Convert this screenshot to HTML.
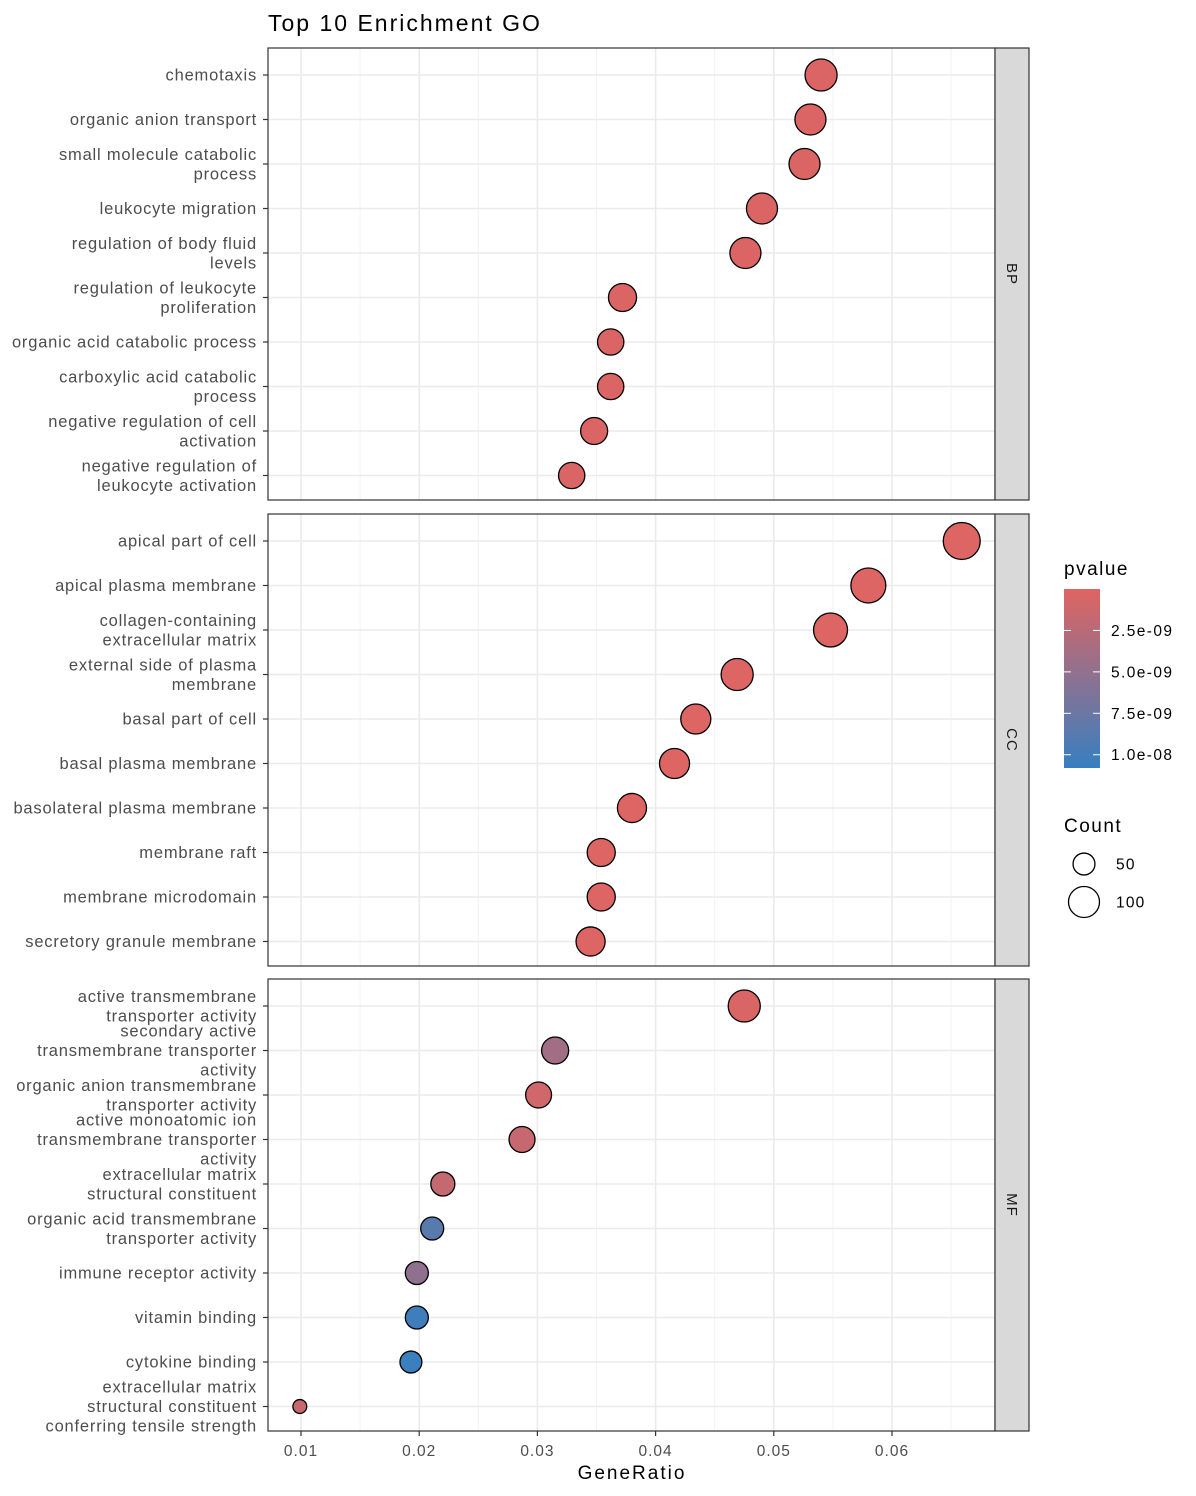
<!DOCTYPE html>
<html><head><meta charset="utf-8"><style>
html,body{margin:0;padding:0;background:#fff;}
svg{display:block;font-family:"Liberation Sans",Arial,sans-serif;}
</style></head><body>
<svg id="chart" width="1196" height="1496">
<text x="268" y="31" font-size="23" letter-spacing="2" fill="#000">Top 10 Enrichment GO</text>
</svg>
<script>
const panels=["BP","CC","MF"];
const labelsBP=["chemotaxis","organic anion transport","small molecule catabolic|process","leukocyte migration","regulation of body fluid|levels","regulation of leukocyte|proliferation","organic acid catabolic process","carboxylic acid catabolic|process","negative regulation of cell|activation","negative regulation of|leukocyte activation"];
const ratioBP=[0.054,0.0531,0.0526,0.049,0.0476,0.0372,0.0362,0.0362,0.0348,0.0329];
const countBP=[107,100,100,100,100,82,72,72,76,72];
const pBP=[0.3e-9,0.3e-9,0.3e-9,0.3e-9,0.3e-9,0.3e-9,0.3e-9,0.3e-9,0.3e-9,0.4e-9];
const labelsCC=["apical part of cell","apical plasma membrane","collagen-containing|extracellular matrix","external side of plasma|membrane","basal part of cell","basal plasma membrane","basolateral plasma membrane","membrane raft","membrane microdomain","secretory granule membrane"];
const ratioCC=[0.0659,0.058,0.0548,0.0469,0.0434,0.0416,0.038,0.0354,0.0354,0.0345];
const countCC=[142,127,120,107,94,94,88,82,82,88];
const pCC=[0.2e-9,0.2e-9,0.2e-9,0.2e-9,0.2e-9,0.2e-9,0.2e-9,0.2e-9,0.2e-9,0.2e-9];
const labelsMF=["active transmembrane|transporter activity","secondary active|transmembrane transporter|activity","organic anion transmembrane|transporter activity","active monoatomic ion|transmembrane transporter|activity","extracellular matrix|structural constituent","organic acid transmembrane|transporter activity","immune receptor activity","vitamin binding","cytokine binding","extracellular matrix|structural constituent|conferring tensile strength"];
const ratioMF=[0.0475,0.0315,0.0301,0.0287,0.022,0.0211,0.0198,0.0198,0.0193,0.0099];
const countMF=[107,76,70,70,60,55,55,55,50,20];
const pMF=[0.4e-9,4.0e-9,1.0e-9,1.6e-9,1.8e-9,8.6e-9,5.2e-9,1.02e-8,1.06e-8,1.6e-9];
const xTicks=[0.01,0.02,0.03,0.04,0.05,0.06];
const pTicks=[2.5e-9,5.0e-9,7.5e-9,1.0e-8];
const pTickLabels=["2.5e-09","5.0e-09","7.5e-09","1.0e-08"];
const sizeLegend=[50,100];

const NS="http://www.w3.org/2000/svg";
const svg=document.getElementById('chart');
function mk(tag,attrs,parent){const e=document.createElementNS(NS,tag);for(const k in attrs)e.setAttribute(k,attrs[k]);(parent||svg).appendChild(e);return e;}
const X0=268,X1=995;
const xs=v=>301+(v-0.01)*11820;
const rs=c=>1.55*Math.sqrt(c);
const PMAX=1.08e-8;
function col(p){const t=Math.max(0,Math.min(1,p/PMAX));const a=[224,100,98],b=[55,127,192];return `rgb(${a.map((v,i)=>Math.round(v+(b[i]-v)*t)).join(',')})`;}
const tops=[48,514,979],H=452;
const data={BP:[labelsBP,ratioBP,countBP,pBP],CC:[labelsCC,ratioCC,countCC,pCC],MF:[labelsMF,ratioMF,countMF,pMF]};
panels.forEach((pn,pi)=>{
  const top=tops[pi];const [labs,rat,cnt,pv]=data[pn];
  const g=mk('g',{});
  
  
  mk('rect',{x:X0,y:top,width:X1-X0,height:H,fill:'#fff'},g);
  for(let v=0.005;v<0.07;v+=0.01){const x=xs(v);if(x>X0&&x<X1)mk('line',{x1:x,x2:x,y1:top,y2:top+H,stroke:'#f2f2f2','stroke-width':1},g);}
  xTicks.forEach(v=>{const gl=mk('line',{x1:xs(v),x2:xs(v),y1:top,y2:top+H,stroke:'#ebebeb','stroke-width':1.6},g);});
  const ry=i=>top+27+i*44.5;
  labs.forEach((l,i)=>{
    mk('line',{x1:X0,x2:X1,y1:ry(i),y2:ry(i),stroke:'#ebebeb','stroke-width':1.6},g);
    mk('line',{x1:X0-5,x2:X0,y1:ry(i),y2:ry(i),stroke:'#333','stroke-width':1.2},g);
    const lines=l.split('|');const t=mk('text',{x:257,'text-anchor':'end','font-size':16.5,'letter-spacing':0.8,fill:'#4d4d4d'},g);
    
    
    lines.forEach((s,k)=>{const ts=mk('tspan',{x:257,y:ry(i)+5.5+(k-(lines.length-1)/2)*19.5},t);ts.textContent=s;});
  });
  rat.forEach((v,i)=>{
    const c=mk('circle',{cx:xs(v),cy:ry(i),r:rs(cnt[i]),fill:col(pv[i]),stroke:'#000','stroke-width':1.3},g);
    
    
  });
  mk('rect',{x:X0,y:top,width:X1-X0,height:H,fill:'none',stroke:'#333','stroke-width':1.2},g);
  const st=mk('rect',{x:X1,y:top,width:34,height:H,fill:'#d9d9d9',stroke:'#333','stroke-width':1.2},g);
  
  
  const stt=mk('text',{x:0,y:0,'font-size':15,'letter-spacing':1,fill:'#1a1a1a','text-anchor':'middle',transform:`translate(${X1+12},${top+H/2}) rotate(90)`},g);
  stt.textContent=pn;
  
  
});
const bottom=tops[2]+H;
xTicks.forEach(v=>{
  mk('line',{x1:xs(v),x2:xs(v),y1:bottom,y2:bottom+5,stroke:'#333','stroke-width':1.2});
  const t=mk('text',{x:xs(v),y:bottom+25,'text-anchor':'middle','font-size':15.5,'letter-spacing':1,fill:'#4d4d4d'});
  t.textContent=v.toFixed(2);
  
  
});
const xt=mk('text',{x:632,y:1479,'text-anchor':'middle','font-size':19,'letter-spacing':2,fill:'#000'});
xt.textContent='GeneRatio';


const lt=mk('text',{x:1064,y:575,'font-size':19,'letter-spacing':1.5,fill:'#000'});lt.textContent='pvalue';


const defs=mk('defs',{});const lg=mk('linearGradient',{id:'pg',x1:0,y1:0,x2:0,y2:1},defs);
for(let k=0;k<=10;k++)mk('stop',{offset:k/10,'stop-color':col(PMAX*k/10)},lg);
const cb=mk('rect',{x:1064,y:589,width:36,height:179,fill:'url(#pg)'});


const py=p=>589+p/PMAX*179;
pTicks.forEach((p,i)=>{
  mk('line',{x1:1064,x2:1071,y1:py(p),y2:py(p),stroke:'#fff','stroke-width':1});
  mk('line',{x1:1093,x2:1100,y1:py(p),y2:py(p),stroke:'#fff','stroke-width':1});
  const t=mk('text',{x:1111,y:py(p)+5.5,'font-size':15.5,'letter-spacing':1.4,fill:'#000'});t.textContent=pTickLabels[i];
  
  
});
const ct=mk('text',{x:1064,y:832,'font-size':19,'letter-spacing':1.5,fill:'#000'});ct.textContent='Count';


sizeLegend.forEach((c,i)=>{
  const y=864+i*38;
  const ci=mk('circle',{cx:1084,cy:y,r:rs(c),fill:'none',stroke:'#000','stroke-width':1.3});
  
  
  const t=mk('text',{x:1116,y:y+5.5,'font-size':15.5,'letter-spacing':1.2,fill:'#000'});t.textContent=c;
  
  
});
</script>
</body></html>
